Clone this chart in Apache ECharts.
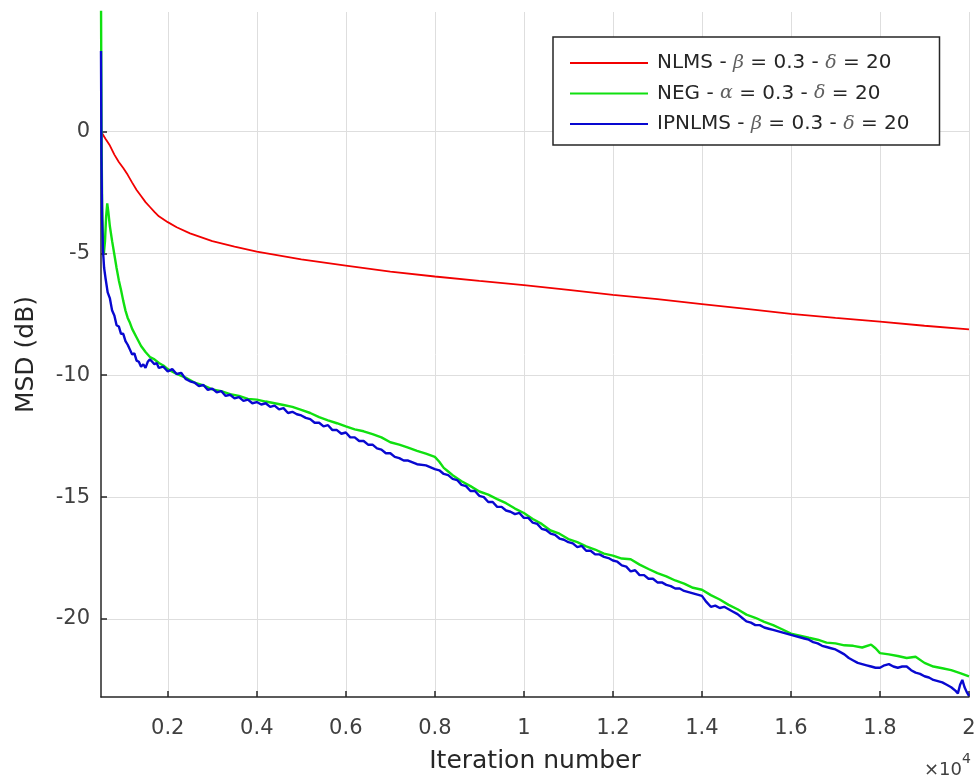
<!DOCTYPE html>
<html>
<head>
<meta charset="utf-8">
<script src="https://cdn.jsdelivr.net/npm/echarts@6/dist/echarts.min.js"></script>
<style>html,body{margin:0;padding:0;background:#fff;}#chart{width:978px;height:783px;}</style>
</head>
<body>
<div id="chart"></div>
<script>
// ---- data (iteration number, MSD in dB) ----
const xTicks = [2000, 4000, 6000, 8000, 10000, 12000, 14000, 16000, 18000, 20000];
const yTicks = [-20, -15, -10, -5, 0];

const nlmsIter = [500,600,700,800,900,1000,1100,1200,1300,1400,1500,1600,1700,1800,2000,2200,2500,3000,3500,4000,5000,6000,7000,8000,9000,10000,11000,12000,13000,14000,15000,16000,17000,18000,19000,20000];
const nlmsMsd  = [0,-0.3,-0.58,-0.95,-1.25,-1.5,-1.78,-2.1,-2.4,-2.65,-2.9,-3.1,-3.3,-3.48,-3.72,-3.93,-4.18,-4.5,-4.72,-4.93,-5.25,-5.5,-5.75,-5.95,-6.13,-6.3,-6.5,-6.7,-6.88,-7.08,-7.28,-7.48,-7.65,-7.8,-7.97,-8.12];

const negIter = [500,512,525,545,565,590,615,640,665,700,750,800,850,900,950,1000,1050,1100,1150,1200,1300,1400,1500,1600,1700,1800,1900,2000,2200,2400,2600,2800,3000,3200,3400,3600,3800,4000,4200,4400,4600,4800,5000,5200,5400,5600,5800,6000,6200,6400,6600,6800,7000,7200,7400,7600,7800,8000,8100,8200,8300,8400,8600,8800,9000,9200,9400,9600,9800,10000,10200,10400,10600,10800,11000,11200,11400,11600,11800,12000,12200,12400,12600,12800,13000,13200,13400,13600,13800,14000,14200,14400,14600,14800,15000,15200,15400,15600,15800,16000,16200,16400,16600,16800,17000,17200,17400,17600,17800,17900,18000,18200,18400,18600,18800,19000,19200,19400,19600,19800,20000];
const negMsd  = [5.5,0.0,-3.0,-4.6,-5.0,-4.5,-3.5,-2.95,-3.3,-3.9,-4.5,-5.05,-5.6,-6.1,-6.5,-6.95,-7.35,-7.65,-7.85,-8.1,-8.45,-8.8,-9.05,-9.25,-9.35,-9.5,-9.6,-9.75,-9.95,-10.1,-10.3,-10.42,-10.58,-10.65,-10.78,-10.85,-10.97,-11.0,-11.08,-11.15,-11.22,-11.3,-11.42,-11.55,-11.72,-11.85,-11.97,-12.1,-12.22,-12.3,-12.42,-12.55,-12.75,-12.85,-12.97,-13.1,-13.22,-13.35,-13.55,-13.8,-13.95,-14.1,-14.35,-14.55,-14.77,-14.9,-15.08,-15.25,-15.47,-15.65,-15.9,-16.1,-16.37,-16.5,-16.72,-16.85,-17.02,-17.15,-17.32,-17.4,-17.52,-17.55,-17.77,-17.95,-18.12,-18.25,-18.42,-18.55,-18.72,-18.8,-19.02,-19.2,-19.42,-19.6,-19.82,-19.95,-20.12,-20.25,-20.42,-20.6,-20.68,-20.77,-20.85,-20.97,-21.0,-21.08,-21.1,-21.17,-21.05,-21.2,-21.4,-21.45,-21.52,-21.6,-21.55,-21.8,-21.95,-22.02,-22.1,-22.22,-22.35];

const ipIter = [500,510,525,545,570,600,650,700,750,800,850,900,950,1000,1050,1100,1150,1200,1250,1300,1350,1400,1450,1500,1550,1600,1650,1700,1750,1800,1900,2000,2100,2200,2300,2400,2500,2600,2700,2800,2900,3000,3100,3200,3300,3400,3500,3600,3700,3800,3900,4000,4100,4200,4300,4400,4500,4600,4700,4800,4900,5000,5100,5200,5300,5400,5500,5600,5700,5800,5900,6000,6100,6200,6300,6400,6500,6600,6700,6800,6900,7000,7100,7200,7300,7400,7600,7800,8000,8100,8200,8300,8400,8500,8600,8700,8800,8900,9000,9100,9200,9300,9400,9500,9600,9700,9800,9900,10000,10100,10200,10300,10400,10500,10600,10700,10800,10900,11000,11100,11200,11300,11400,11500,11600,11700,11800,11900,12000,12100,12200,12300,12400,12500,12600,12700,12800,12900,13000,13100,13200,13300,13400,13500,13600,13700,13800,13900,14000,14100,14200,14300,14400,14500,14600,14700,14800,14900,15000,15100,15200,15300,15400,15500,15600,15700,15800,15900,16000,16100,16200,16300,16400,16500,16600,16700,16800,16900,17000,17100,17200,17300,17400,17500,17600,17700,17800,17900,18000,18100,18200,18300,18400,18500,18600,18700,18800,18900,19000,19100,19200,19300,19400,19500,19600,19700,19750,19800,19850,19900,19950,20000];
const ipMsd  = [3.3,-1.0,-3.6,-4.9,-5.6,-6.0,-6.6,-6.85,-7.35,-7.55,-7.95,-8.0,-8.3,-8.3,-8.6,-8.75,-8.95,-9.15,-9.1,-9.4,-9.45,-9.65,-9.55,-9.7,-9.45,-9.35,-9.45,-9.55,-9.5,-9.7,-9.65,-9.85,-9.75,-9.95,-9.9,-10.15,-10.25,-10.3,-10.45,-10.4,-10.6,-10.55,-10.7,-10.65,-10.85,-10.8,-10.95,-10.9,-11.05,-11.0,-11.15,-11.1,-11.2,-11.15,-11.3,-11.25,-11.4,-11.35,-11.55,-11.5,-11.6,-11.65,-11.75,-11.8,-11.95,-11.95,-12.1,-12.05,-12.25,-12.25,-12.4,-12.35,-12.55,-12.55,-12.7,-12.7,-12.85,-12.85,-13.0,-13.05,-13.2,-13.2,-13.35,-13.4,-13.5,-13.5,-13.65,-13.7,-13.85,-13.9,-14.05,-14.1,-14.25,-14.3,-14.5,-14.55,-14.75,-14.75,-14.95,-15.0,-15.2,-15.2,-15.4,-15.4,-15.55,-15.6,-15.7,-15.65,-15.85,-15.85,-16.05,-16.1,-16.3,-16.35,-16.5,-16.55,-16.7,-16.75,-16.85,-16.9,-17.05,-17.0,-17.2,-17.2,-17.35,-17.35,-17.45,-17.5,-17.6,-17.65,-17.8,-17.85,-18.05,-18.0,-18.2,-18.2,-18.35,-18.35,-18.5,-18.5,-18.6,-18.65,-18.75,-18.75,-18.85,-18.9,-18.95,-19.0,-19.05,-19.3,-19.5,-19.45,-19.55,-19.5,-19.6,-19.7,-19.8,-19.95,-20.1,-20.15,-20.25,-20.25,-20.35,-20.4,-20.45,-20.5,-20.55,-20.6,-20.65,-20.7,-20.75,-20.8,-20.85,-20.95,-21.0,-21.1,-21.15,-21.2,-21.25,-21.35,-21.45,-21.6,-21.7,-21.8,-21.85,-21.9,-21.95,-22.0,-22.0,-21.9,-21.85,-21.95,-22.0,-21.95,-21.95,-22.1,-22.2,-22.25,-22.35,-22.4,-22.5,-22.55,-22.6,-22.7,-22.8,-22.95,-23.05,-22.7,-22.5,-22.8,-23.0,-23.15];

const seriesNames = ['NLMS - β = 0.3 - δ = 20', 'NEG - α = 0.3 - δ = 20', 'IPNLMS - β = 0.3 - δ = 20'];
const seriesColors = ['#f20000', '#10e010', '#0808d0'];

const zip = (xs, ys) => xs.map((x, i) => [x, ys[i]]);

const chart = echarts.init(document.getElementById('chart'), null, { renderer: 'canvas' });
const axisTextColor = '#262626';
const fontFam = '"DejaVu Sans", "Liberation Sans", sans-serif';

const option = {
  backgroundColor: '#ffffff',
  animation: false,
  grid: { left: 101, right: 9, top: 12, bottom: 86, containLabel: false, outerBoundsMode: 'none' },
  xAxis: {
    type: 'value', min: 500, max: 20000,
    name: 'Iteration number', nameLocation: 'middle', nameGap: 52,
    nameTextStyle: { color: axisTextColor, fontSize: 25, fontFamily: fontFam },
    axisLine: { show: true, onZero: false, lineStyle: { color: '#262626', width: 1.5 } },
    axisTick: { show: true, inside: true, length: 6, customValues: xTicks, lineStyle: { color: '#262626', width: 1.5 } },
    axisLabel: { customValues: xTicks, margin: 21, color: '#404040', fontSize: 21, fontFamily: fontFam,
      formatter: v => String(Math.round(v / 1000) / 10) },
    splitLine: { show: true, lineStyle: { color: '#dedede', width: 1 } }
  },
  yAxis: {
    type: 'value', min: -23.2, max: 4.9,
    name: 'MSD (dB)', nameLocation: 'middle', nameGap: 62, nameRotate: 90,
    nameTextStyle: { color: axisTextColor, fontSize: 25, fontFamily: fontFam },
    axisLine: { show: true, onZero: false, lineStyle: { color: '#262626', width: 1.5 } },
    axisTick: { show: true, inside: true, length: 6, customValues: yTicks, lineStyle: { color: '#262626', width: 1.5 } },
    axisLabel: { customValues: yTicks, margin: 11, color: '#404040', fontSize: 21, fontFamily: fontFam },
    splitLine: { show: true, lineStyle: { color: '#dedede', width: 1 } }
  },
  legend: {
    orient: 'vertical', left: 553, top: 37,
    padding: [16, 30, 11, 17],
    backgroundColor: '#ffffff', borderColor: '#262626', borderWidth: 1.5,
    icon: 'rect',
    itemWidth: 78, itemHeight: 2, itemGap: 10.5,
    data: seriesNames,
    textStyle: { color: '#262626', fontSize: 20, fontFamily: fontFam, lineHeight: 20, padding: [0, 0, 0, 4],
      rich: { g: { fontFamily: '"DejaVu Serif", "Liberation Serif", serif', fontStyle: 'italic', fontSize: 19, color: '#606060' } } },
    formatter: name => name.replace(/([αβδ])/g, '{g|$1}')
  },
  series: [
    { name: seriesNames[0], type: 'line', data: zip(nlmsIter, nlmsMsd), showSymbol: false, symbol: 'none',
      lineStyle: { color: seriesColors[0], width: 1.8 }, itemStyle: { color: seriesColors[0] }, clip: true, z: 2 },
    { name: seriesNames[1], type: 'line', data: zip(negIter, negMsd), showSymbol: false, symbol: 'none',
      lineStyle: { color: seriesColors[1], width: 2.4 }, itemStyle: { color: seriesColors[1] }, clip: true, z: 3 },
    { name: seriesNames[2], type: 'line', data: zip(ipIter, ipMsd), showSymbol: false, symbol: 'none',
      lineStyle: { color: seriesColors[2], width: 2.4 }, itemStyle: { color: seriesColors[2] }, clip: true, z: 4 }
  ],
  graphic: [
    { type: 'text', right: 16, top: 761, style: { text: '×10', fontSize: 18, fontFamily: fontFam, fill: '#404040' } },
    { type: 'text', right: 7, top: 752, style: { text: '4', fontSize: 14, fontFamily: fontFam, fill: '#404040' } }
  ]
};
chart.setOption(option);
</script>
</body>
</html>
